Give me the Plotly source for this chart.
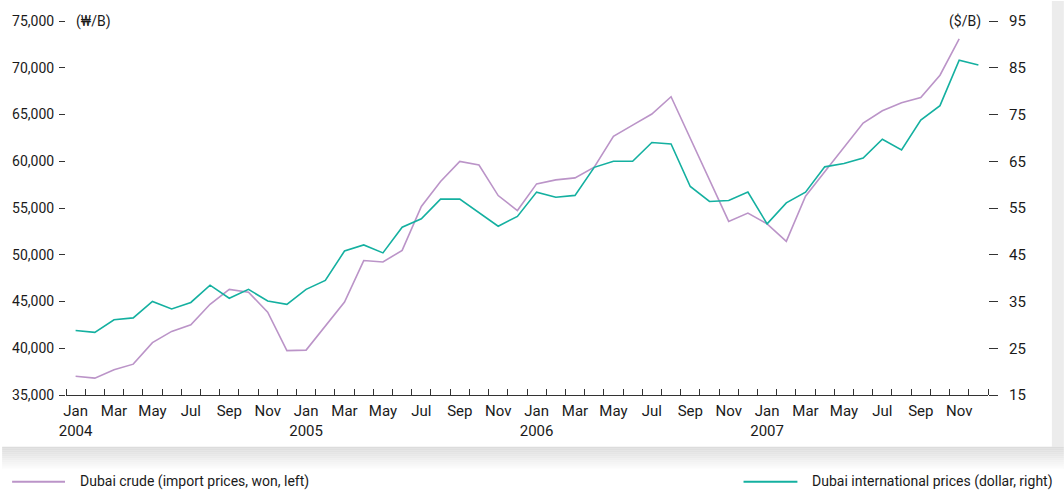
import plotly.graph_objects as go

months = ["Jan", "Feb", "Mar", "Apr", "May", "Jun", "Jul", "Aug", "Sep", "Oct", "Nov", "Dec"]
years = [2004, 2005, 2006, 2007]

# Dubai crude, import prices (won per barrel), Jan 2004 - Nov 2007
won_prices = [
    37000, 36800, 37700, 38300, 40600, 41800, 42500, 44700, 46300, 46000, 43850, 39750,
    39800, 42400, 44950, 49380, 49220, 50470, 55160, 57830, 59990, 59600, 56330, 54730,
    57580, 58010, 58220, 59360, 62660, 63870, 65050, 66900, 62500, 58000, 53560, 54450,
    53310, 51430, 56260, 58870, 61470, 64090, 65400, 66250, 66820, 69200, 73100,
]

# Dubai international prices (dollar per barrel), Jan 2004 - Dec 2007
dollar_prices = [
    28.8, 28.4, 31.1, 31.5, 35.0, 33.4, 34.8, 38.5, 35.7, 37.6, 35.1, 34.4,
    37.6, 39.5, 45.8, 47.1, 45.4, 50.9, 52.7, 56.9, 56.9, 54.0, 51.1, 53.2,
    58.4, 57.3, 57.7, 63.7, 65.0, 65.0, 69.0, 68.7, 59.6, 56.4, 56.6, 58.4,
    51.6, 56.1, 58.4, 63.8, 64.5, 65.7, 69.7, 67.4, 73.8, 76.9, 86.6, 85.6,
]

left_ticks = [35000, 40000, 45000, 50000, 55000, 60000, 65000, 70000, 75000]
right_ticks = [15, 25, 35, 45, 55, 65, 75, 85, 95]

x_idx = list(range(len(years) * 12))
tick_vals = x_idx[::2]
tick_text = []
for i in tick_vals:
    m = months[i % 12]
    if i % 12 == 0:
        tick_text.append(f"{m}<br>{years[i // 12]}")
    else:
        tick_text.append(m)

PURPLE = "#bb94c8"
TEAL = "#14b0a0"
TXT = "#1a1a1a"
FONT = "Liberation Sans Narrow, Roboto, sans-serif"

W, H = 1064, 493
ML, MR, MT, MB = 64, 76, 20, 98
PW, PH = W - ML - MR, H - MT - MB


def px_x(px):
    return (px - ML) / PW


def px_y(py):
    return (H - MB - py) / PH


fig = go.Figure()
fig.add_trace(go.Scatter(
    x=x_idx[:len(won_prices)], y=won_prices, mode="lines",
    line=dict(color=PURPLE, width=1.6), name="Dubai crude (import prices, won, left)",
    yaxis="y", showlegend=False,
))
fig.add_trace(go.Scatter(
    x=x_idx[:len(dollar_prices)], y=dollar_prices, mode="lines",
    line=dict(color=TEAL, width=1.6), name="Dubai international prices (dollar, right)",
    yaxis="y2", showlegend=False,
))

shapes = []
# card shadow (right strip and bottom gradient)
shapes.append(dict(type="rect", xref="paper", yref="paper",
                   x0=px_x(1052), x1=px_x(1064), y0=px_y(447), y1=px_y(0),
                   fillcolor="#ececec", line=dict(width=0), layer="below"))
n = 12
for j in range(n):
    c = int(0xdc + (0xff - 0xdc) * j / (n - 1))
    col = f"rgb({c},{c},{c})"
    shapes.append(dict(type="rect", xref="paper", yref="paper",
                       x0=px_x(0), x1=px_x(1064), y0=px_y(447 + 2 * j + 2), y1=px_y(447 + 2 * j),
                       fillcolor=col, line=dict(width=0), layer="below"))
# legend keys
shapes.append(dict(type="line", xref="paper", yref="paper",
                   x0=px_x(10), x1=px_x(63), y0=px_y(482), y1=px_y(482),
                   line=dict(color=PURPLE, width=2)))
shapes.append(dict(type="line", xref="paper", yref="paper",
                   x0=px_x(743), x1=px_x(797), y0=px_y(482), y1=px_y(482),
                   line=dict(color=TEAL, width=2)))

annotations = [
    dict(text="(₩/B)", xref="paper", yref="paper", x=px_x(72), y=px_y(20),
         xanchor="left", yanchor="middle", showarrow=False, font=dict(size=14, color=TXT)),
    dict(text="($/B)", xref="paper", yref="paper", x=px_x(983), y=px_y(20),
         xanchor="right", yanchor="middle", showarrow=False, font=dict(size=14, color=TXT)),
    dict(text="Dubai crude (import prices, won, left)", xref="paper", yref="paper",
         x=px_x(76), y=px_y(482), xanchor="left", yanchor="middle", showarrow=False,
         font=dict(size=14, color=TXT)),
    dict(text="Dubai international prices (dollar, right)", xref="paper", yref="paper",
         x=px_x(810), y=px_y(482), xanchor="left", yanchor="middle", showarrow=False,
         font=dict(size=14, color=TXT)),
]

fig.update_layout(
    width=W, height=H,
    margin=dict(l=ML, r=MR, t=MT, b=MB, pad=0),
    paper_bgcolor="white", plot_bgcolor="white",
    font=dict(family=FONT, size=14, color=TXT),
    xaxis=dict(
        range=[-0.5, 47.5], tickmode="array", tickvals=tick_vals, ticktext=tick_text,
        ticks="", showgrid=False, zeroline=False, showline=True, linecolor="#333", linewidth=1,
        tickfont=dict(size=15, color=TXT), ticklabelstandoff=2,
        minor=dict(ticks="inside", tick0=-0.5, dtick=1, ticklen=6, tickcolor="#333", showgrid=False),
    ),
    yaxis=dict(
        range=[35000, 75000], tickmode="array", tickvals=left_ticks, tickformat=",d",
        ticks="outside", ticklen=6, tickcolor="#333", showgrid=False, zeroline=False,
        showline=False, tickfont=dict(size=14, color=TXT), ticklabelstandoff=2,
    ),
    yaxis2=dict(
        range=[15, 95], tickmode="array", tickvals=right_ticks, overlaying="y", side="right",
        ticks="outside", ticklen=9, tickcolor="#333", showgrid=False, zeroline=False,
        showline=False, tickfont=dict(size=15, color=TXT), ticklabelstandoff=8,
    ),
    shapes=shapes,
    annotations=annotations,
    showlegend=False,
)

fig.write_html(
    "out.html",
    config={"displayModeBar": False},
    post_script="document.body.style.margin='0';document.body.style.padding='0';document.body.style.overflow='hidden';",
)
